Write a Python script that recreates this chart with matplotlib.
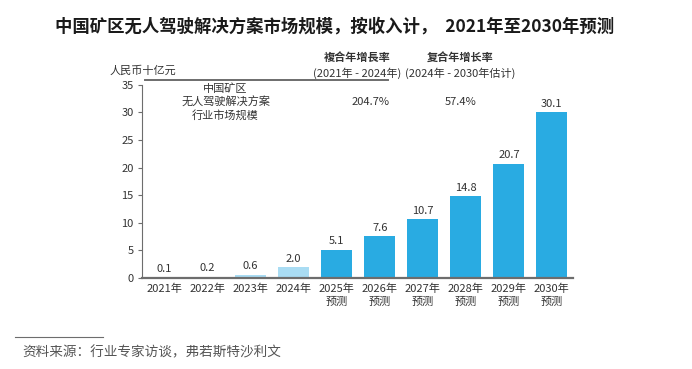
import numpy as np
import matplotlib.pyplot as plt

plt.rcParams['font.family'] = ['Noto Sans CJK SC', 'DejaVu Sans']

# data
years = ['2021年', '2022年', '2023年', '2024年', '2025年\n预测', '2026年\n预测',
         '2027年\n预测', '2028年\n预测', '2029年\n预测', '2030年\n预测']
values = [0.1, 0.2, 0.6, 2.0, 5.1, 7.6, 10.7, 14.8, 20.7, 30.1]
cagr_labels = ['204.7%', '57.4%']

hist_col = '#a9dcf3'
fcst_col = '#29abe2'
txt = '#333333'
axcol = '#6d6d6d'

fig = plt.figure(figsize=(6.92, 3.69), dpi=100)
ax = fig.add_axes([0.205, 0.247, 0.623, 0.523])

x = np.arange(len(values))
colors = [hist_col] * 4 + [fcst_col] * 6
ax.bar(x, values, width=0.72, color=colors)
for xi, v in zip(x, values):
    ax.text(xi, v + 0.6, f'{v:.1f}', ha='center', va='bottom', fontsize=8, color=txt)

ax.set_xlim(-0.53, 9.49)
ax.set_ylim(0, 35)
ax.set_yticks(range(0, 36, 5))
ax.set_xticks(x)
ax.set_xticklabels(years, fontsize=8, color=txt, linespacing=1.45)
ax.tick_params(axis='x', length=0, pad=4)
ax.tick_params(axis='y', length=3, color=axcol, labelsize=8, labelcolor=txt, pad=3)
for s in ['top', 'right']:
    ax.spines[s].set_visible(False)
ax.spines['left'].set_color(axcol)
ax.spines['bottom'].set_color(axcol)
ax.spines['bottom'].set_linewidth(1.6)

# title and annotations
fig.text(0.484, 0.928, '中国矿区无人驾驶解决方案市场规模，按收入计，  2021年至2030年预测',
         ha='center', va='center', fontsize=12.5, fontweight='bold', color='#1a1a1a')
fig.text(0.206, 0.81, '人民币十亿元', ha='center', va='center', fontsize=8, color=txt)
fig.add_artist(plt.Line2D([0.209, 0.561], [0.783, 0.783], color=axcol, lw=1.4))
fig.text(0.516, 0.845, '複合年增長率', ha='center', va='center', fontsize=8,
         fontweight='bold', color=txt)
fig.text(0.516, 0.802, '(2021年 - 2024年)', ha='center', va='center', fontsize=8, color=txt)
fig.text(0.665, 0.845, '复合年增长率', ha='center', va='center', fontsize=8,
         fontweight='bold', color=txt)
fig.text(0.665, 0.802, '(2024年 - 2030年估计)', ha='center', va='center', fontsize=8, color=txt)
fig.text(0.326, 0.723, '中国矿区\n无人驾驶解决方案\n行业市场规模', ha='center', va='center',
         fontsize=8, color=txt, linespacing=1.25)
fig.text(0.536, 0.723, cagr_labels[0], ha='center', va='center', fontsize=8, color=txt)
fig.text(0.665, 0.723, cagr_labels[1], ha='center', va='center', fontsize=8, color=txt)

# source
fig.add_artist(plt.Line2D([0.022, 0.149], [0.087, 0.087], color=axcol, lw=0.8))
fig.text(0.032, 0.045, '资料来源：行业专家访谈，弗若斯特沙利文', ha='left', va='center',
         fontsize=9.8, style='italic', color='#555555')

fig.savefig('out.png', dpi=100)
